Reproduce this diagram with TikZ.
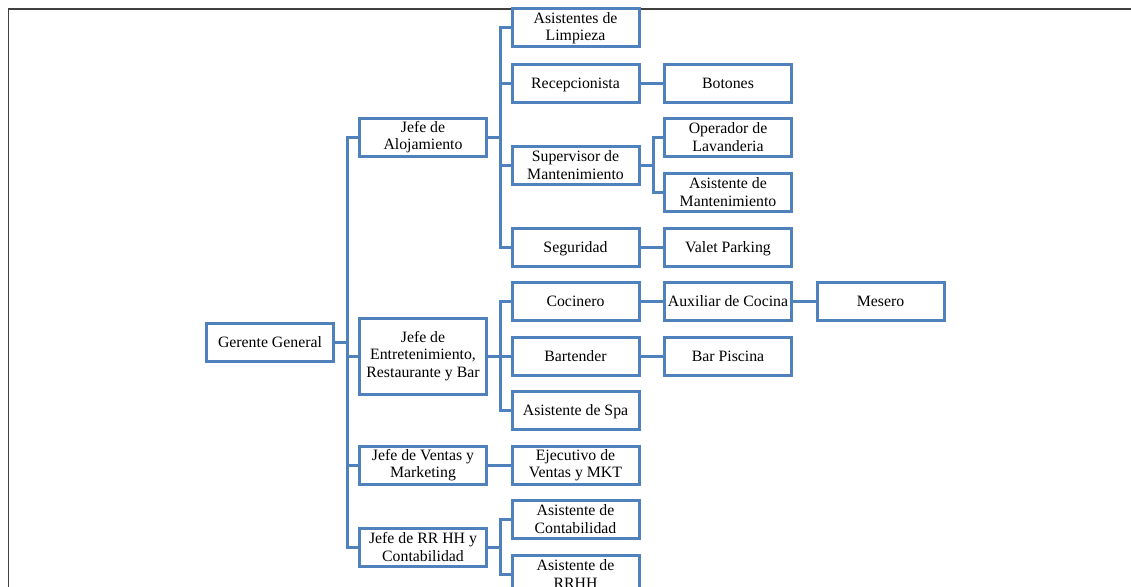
\documentclass[tikz,border=0pt]{standalone}
\usepackage{fontspec}
\setmainfont{Liberation Serif}
\definecolor{boxblue}{HTML}{4F81BD}
\definecolor{frame}{HTML}{404040}
\tikzset{
  box/.style={draw=boxblue, line width=3pt, fill=white, minimum width=127pt, minimum height=38pt,
    inner sep=0pt, align=center, font=\fontsize{15.8}{17.5}\selectfont},
  one/.style={box, text height=12pt, text depth=2pt},
  tall/.style={box, minimum height=76pt},
  conn/.style={draw=boxblue, line width=3pt},
}
\begin{document}
\begin{tikzpicture}[x=1pt,y=-1pt]
\useasboundingbox (0,0) rectangle (1131,586);
\fill[white] (0,0) rectangle (1131,586);
\draw[frame, line width=1.3pt] (8.5,590) -- (8.5,9) -- (1135,9);
% nodes
\node[one] (gg) at (270,342) {Gerente General};
\node[box] (ja) at (423,137) {Jefe de\\Alojamiento};
\node[tall] (je) at (423,356) {Jefe de\\Entretenimiento,\\Restaurante y Bar};
\node[box] (jv) at (423,465) {Jefe de Ventas y\\Marketing};
\node[box] (jr) at (423,547) {Jefe de RR HH y\\Contabilidad};
\node[box] (al) at (575.5,28) {Asistentes de\\Limpieza};
\node[one] (re) at (575.5,83) {Recepcionista};
\node[box] (su) at (575.5,165) {Supervisor de\\Mantenimiento};
\node[one] (se) at (575.5,247) {Seguridad};
\node[one] (co) at (575.5,301) {Cocinero};
\node[one] (ba) at (575.5,356) {Bartender};
\node[one] (as) at (575.5,410) {Asistente de Spa};
\node[box] (ev) at (575.5,465) {Ejecutivo de\\Ventas y MKT};
\node[box] (ac) at (575.5,519) {Asistente de\\Contabilidad};
\node[box] (ar) at (575.5,574) {Asistente de\\RRHH};
\node[one] (bo) at (728,83) {Botones};
\node[box] (ol) at (728,137) {Operador de\\Lavanderia};
\node[box] (am) at (728,192) {Asistente de\\Mantenimiento};
\node[one] (vp) at (728,247) {Valet Parking};
\node[one] (ax) at (728,301) {Auxiliar de Cocina};
\node[one] (bp) at (728,356) {Bar Piscina};
\node[one] (me) at (880.5,301) {Mesero};
% connectors
\foreach \p/\c in {gg/ja,gg/je,gg/jv,gg/jr,ja/al,ja/re,ja/su,ja/se,je/co,je/ba,je/as,jv/ev,jr/ac,jr/ar,su/ol,su/am,re/bo,se/vp,co/ax,ba/bp,ax/me}{
  \draw[conn] (\p.east) -- ++(12.5,0) |- (\c.west);
}
\end{tikzpicture}
\end{document}
